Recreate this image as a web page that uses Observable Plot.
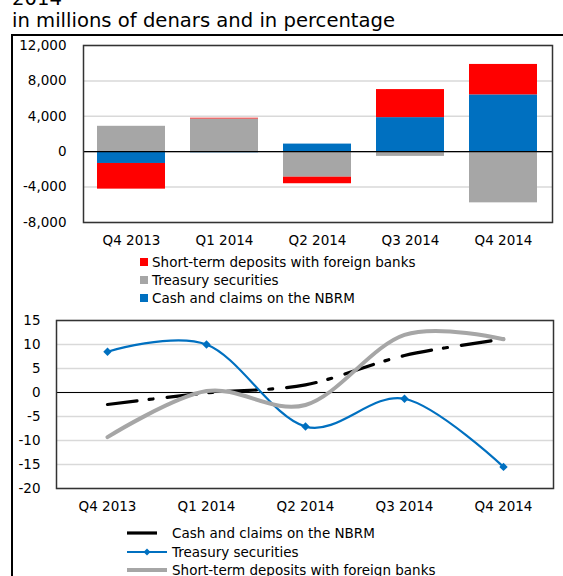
<!DOCTYPE html>
<html><head><meta charset="utf-8">
<script src="https://cdn.jsdelivr.net/npm/d3@7"></script>
<script src="https://cdn.jsdelivr.net/npm/@observablehq/plot@0.6"></script>
<style>
body{margin:0;background:#fff;font-family:"DejaVu Sans",Verdana,sans-serif;color:#000;}
#root{position:relative;width:563px;height:576px;overflow:hidden;background:#fff;}
.abs{position:absolute;white-space:nowrap;}
.t{font-size:19.6px;line-height:20px;left:12px;}
.lg{font-size:13.5px;line-height:16px;}
.sq{position:absolute;width:8px;height:8px;}
#vline{position:absolute;left:11px;top:34px;width:2px;height:560px;background:#000;}
#hline{position:absolute;left:11px;top:34px;width:560px;height:1.5px;background:#000;}
svg{overflow:visible;}
</style></head><body><div id="root">
<div class="abs t" style="top:-11px">2014</div>
<div class="abs t" style="top:11px">in millions of denars and in percentage</div>
<div id="hline"></div><div id="vline"></div>
<div id="chart1" class="abs" style="left:0;top:35px"></div>
<div id="legend1"></div>
<div id="chart2" class="abs" style="left:0;top:310px"></div>
<div id="legend2"></div>
</div>
<script>
const quarters = ["Q4 2013","Q1 2014","Q2 2014","Q3 2014","Q4 2014"];
const seriesNames = ["Cash and claims on the NBRM","Treasury securities","Short-term deposits with foreign banks"];
const cashAmounts = [-1330, -120, 860, 3850, 6420];
const treasuryAmounts = [2870, 3700, -2880, -530, -5780];
const depositAmounts = [-2900, 80, -740, 3170, 3440];
const cashGrowth = [-2.5, -0.1, 1.6, 7.7, 11.1];
const treasuryGrowth = [8.5, 10.0, -7.1, -1.3, -15.5];
const depositGrowth = [-9.3, 0.3, -2.6, 12.0, 11.1];
const amountTicks = [-8000, -4000, 0, 4000, 8000, 12000];
const growthTicks = [-20, -15, -10, -5, 0, 5, 10, 15];
const barColors = ["#0070c0", "#a6a6a6", "#ff0000"];
const lineColors = ["#000000", "#0070c0", "#a6a6a6"];

const font = '"DejaVu Sans", Verdana, sans-serif';
const barData = quarters.flatMap((q, i) => [
  {quarter: q, series: seriesNames[0], value: cashAmounts[i]},
  {quarter: q, series: seriesNames[1], value: treasuryAmounts[i]},
  {quarter: q, series: seriesNames[2], value: depositAmounts[i]}
]);

const chart1 = Plot.plot({
  width: 563, height: 215,
  marginLeft: 83, marginRight: 11, marginTop: 10, marginBottom: 28,
  style: {fontFamily: font, fontSize: "13.5px", color: "#000", background: "transparent", overflow: "visible"},
  x: {domain: quarters, paddingInner: 0.266, paddingOuter: 0.133, label: null, tickSize: 0, tickPadding: 13},
  y: {domain: [-8000, 12000], ticks: amountTicks, tickFormat: d => d.toLocaleString("en-US"), label: null, tickSize: 0, tickPadding: 17},
  color: {domain: seriesNames, range: barColors},
  marks: [
    Plot.gridY(amountTicks, {stroke: "#d9d9d9", strokeOpacity: 1, strokeWidth: 1.5}),
    Plot.barY(barData, {x: "quarter", y: "value", fill: "series"}),
    Plot.ruleY([0], {stroke: "#000", strokeWidth: 1.2}),
    Plot.frame({stroke: "#333", strokeWidth: 1.5})
  ]
});
document.getElementById("chart1").appendChild(chart1);

const lineData = quarters.flatMap((q, i) => [
  {quarter: q, series: seriesNames[0], value: cashGrowth[i]},
  {quarter: q, series: seriesNames[1], value: treasuryGrowth[i]},
  {quarter: q, series: seriesNames[2], value: depositGrowth[i]}
]);
const bySeries = s => lineData.filter(d => d.series === s);

const chart2 = Plot.plot({
  width: 563, height: 220,
  marginLeft: 56, marginRight: 10, marginTop: 10, marginBottom: 42,
  style: {fontFamily: font, fontSize: "13.5px", color: "#000", background: "transparent", overflow: "visible"},
  x: {type: "point", domain: quarters, padding: 0.5, label: null, tickSize: 0, tickPadding: 13},
  y: {domain: [-20, 15], ticks: growthTicks, tickFormat: d => String(d), label: null, tickSize: 0, tickPadding: 16},
  marks: [
    Plot.gridY(growthTicks, {stroke: "#d9d9d9", strokeOpacity: 1, strokeWidth: 1.5}),
    Plot.ruleY([0], {stroke: "#000", strokeWidth: 1.2}),
    Plot.line(bySeries(seriesNames[0]), {x: "quarter", y: "value", stroke: lineColors[0], strokeWidth: 3.2, strokeDasharray: "30,12,4,14", curve: "cardinal", tension: 0}),
    Plot.line(bySeries(seriesNames[1]), {x: "quarter", y: "value", stroke: lineColors[1], strokeWidth: 2.2, curve: "cardinal", tension: 0}),
    Plot.dot(bySeries(seriesNames[1]), {x: "quarter", y: "value", fill: lineColors[1], symbol: "diamond2", r: 3.8}),
    Plot.line(bySeries(seriesNames[2]), {x: "quarter", y: "value", stroke: lineColors[2], strokeWidth: 4, curve: "cardinal", tension: 0}),
    Plot.frame({stroke: "#333", strokeWidth: 1.5})
  ]
});
document.getElementById("chart2").appendChild(chart2);

// legend 1 (reverse order as in the reference)
const l1 = document.getElementById("legend1");
const l1y = [254, 272, 290];
[2, 1, 0].forEach((si, k) => {
  const sq = document.createElement("div");
  sq.className = "sq"; sq.style.left = "140px"; sq.style.top = (l1y[k] + 4) + "px"; sq.style.background = barColors[si];
  l1.appendChild(sq);
  const tx = document.createElement("div");
  tx.className = "abs lg"; tx.style.left = "152px"; tx.style.top = l1y[k] + "px"; tx.textContent = seriesNames[si];
  l1.appendChild(tx);
});

// legend 2
const l2 = document.getElementById("legend2");
const l2y = [533, 552, 570];
const ns = "http://www.w3.org/2000/svg";
const lsvg = document.createElementNS(ns, "svg");
lsvg.setAttribute("width", 563); lsvg.setAttribute("height", 576);
lsvg.style.position = "absolute"; lsvg.style.left = "0"; lsvg.style.top = "0";
const widths = [3.2, 2.2, 4];
[0, 1, 2].forEach(k => {
  const ln = document.createElementNS(ns, "line");
  ln.setAttribute("x1", 127); ln.setAttribute("x2", k === 0 ? 157 : 167);
  ln.setAttribute("y1", l2y[k]); ln.setAttribute("y2", l2y[k]);
  ln.setAttribute("stroke", lineColors[k]); ln.setAttribute("stroke-width", widths[k]);
  lsvg.appendChild(ln);
  if (k === 1) {
    const dm = document.createElementNS(ns, "path");
    dm.setAttribute("d", `M147,${l2y[k]-3.5}L150.5,${l2y[k]}L147,${l2y[k]+3.5}L143.5,${l2y[k]}Z`);
    dm.setAttribute("fill", lineColors[1]);
    lsvg.appendChild(dm);
  }
  const tx = document.createElement("div");
  tx.className = "abs lg"; tx.style.left = "172px"; tx.style.top = (l2y[k] - 8) + "px"; tx.textContent = seriesNames[k];
  l2.appendChild(tx);
});
l2.appendChild(lsvg);
</script>
</body></html>
